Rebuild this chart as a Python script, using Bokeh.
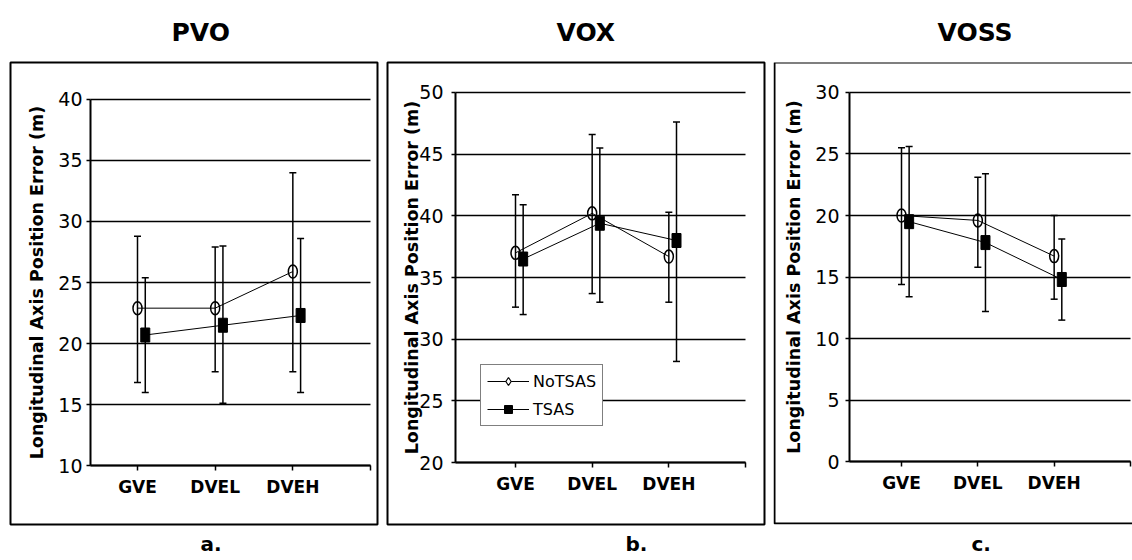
from bokeh.plotting import figure
from bokeh.models import (FixedTicker, Whisker, TeeHead, ColumnDataSource, Title,
                          BoxAnnotation, Legend, LegendItem, Range1d)
from bokeh.layouts import row
from bokeh.embed import file_html
from bokeh.resources import INLINE

# ---------------- data ----------------
categories = ["GVE", "DVEL", "DVEH"]
panel_titles = ["PVO", "VOX", "VOSS"]
panel_letters = ["a.", "b.", "c."]
series_names = ["NoTSAS", "TSAS"]
y_axis_title = "Longitudinal Axis Position Error (m)"

pvo_notsas = [22.9, 22.9, 25.9]
pvo_notsas_hi = [28.8, 27.9, 34.0]
pvo_notsas_lo = [16.8, 17.7, 17.7]
pvo_tsas = [20.7, 21.5, 22.3]
pvo_tsas_hi = [25.4, 28.0, 28.6]
pvo_tsas_lo = [16.0, 15.1, 16.0]

vox_notsas = [37.0, 40.2, 36.7]
vox_notsas_hi = [41.7, 46.6, 40.3]
vox_notsas_lo = [32.6, 33.7, 33.0]
vox_tsas = [36.5, 39.4, 38.0]
vox_tsas_hi = [40.9, 45.5, 47.6]
vox_tsas_lo = [32.0, 33.0, 28.2]

voss_notsas = [20.0, 19.6, 16.7]
voss_notsas_hi = [25.5, 23.1, 20.0]
voss_notsas_lo = [14.4, 15.8, 13.2]
voss_tsas = [19.5, 17.8, 14.8]
voss_tsas_hi = [25.6, 23.4, 18.1]
voss_tsas_lo = [13.4, 12.2, 11.5]

y_limits = [(10, 40), (20, 50), (0, 30)]
y_ticks = [[10, 15, 20, 25, 30, 35, 40],
           [20, 25, 30, 35, 40, 45, 50],
           [0, 5, 10, 15, 20, 25, 30]]

panel_data = [
    (pvo_notsas, pvo_notsas_hi, pvo_notsas_lo, pvo_tsas, pvo_tsas_hi, pvo_tsas_lo),
    (vox_notsas, vox_notsas_hi, vox_notsas_lo, vox_tsas, vox_tsas_hi, vox_tsas_lo),
    (voss_notsas, voss_notsas_hi, voss_notsas_lo, voss_tsas, voss_tsas_hi, voss_tsas_lo),
]

# ---------------- layout (page pixel coordinates) ----------------
FONT = "DejaVu Sans"
FIG_H = 560
BOX_TOP, BOX_BOTTOM = 62, 525
layouts = [
    dict(fl=0, fr=382, box_l=10, box_r=377, x1=137, x4=370, ax_l=90, y_top=99, y_bot=466,
         title_off=161, letter_off=190, outline=True, tick_so=4, label_so=8),
    dict(fl=382, fr=768, box_l=387, box_r=764, x1=515, x4=745, ax_l=455, y_top=92, y_bot=463,
         title_off=169, letter_off=238, outline=True, tick_so=8, label_so=-6),
    dict(fl=768, fr=1132, box_l=773, box_r=1132, x1=901, x4=1130, ax_l=849, y_top=92, y_bot=462,
         title_off=164, letter_off=198, outline=False, tick_so=6, label_so=8),
]
TSAS_OFFSET = 0.1

figs = []
for i, L in enumerate(layouts):
    ylo, yhi = y_limits[i]
    xpx = (L["x4"] - L["x1"]) / 3.0
    ypx = (L["y_bot"] - L["y_top"]) / float(yhi - ylo)
    x_axis_start = 1 + (L["ax_l"] - L["x1"]) / xpx
    fx0 = 1 + (L["box_l"] - L["x1"]) / xpx
    fx1 = 1 + (L["box_r"] - L["x1"]) / xpx
    fy1 = yhi + (L["y_top"] - BOX_TOP) / ypx
    fy0 = ylo - (BOX_BOTTOM - L["y_bot"]) / ypx

    p = figure(width=L["fr"] - L["fl"], height=FIG_H, output_backend="svg", toolbar_location=None,
               x_range=Range1d(fx0, fx1), y_range=Range1d(fy0, fy1),
               min_border_left=L["box_l"] - L["fl"], min_border_right=L["fr"] - L["box_r"],
               min_border_top=BOX_TOP, min_border_bottom=FIG_H - BOX_BOTTOM)
    p.background_fill_color = "white"
    p.border_fill_color = "white"
    if L["outline"]:
        p.outline_line_color = "black"
        p.outline_line_width = 2
        p.outline_line_alpha = 1
    else:
        p.outline_line_color = None
        fw = L["box_r"] - L["box_l"]
        fh = BOX_BOTTOM - BOX_TOP
        p.add_layout(BoxAnnotation(left=1, right=fw + 40, top=fh - 1, bottom=1,
                                   left_units="screen", right_units="screen", top_units="screen",
                                   bottom_units="screen", fill_color=None, fill_alpha=0,
                                   line_color="black", line_width=2, line_alpha=1))

    p.xgrid.visible = False
    p.ygrid.ticker = FixedTicker(ticks=y_ticks[i])
    p.ygrid.bounds = (ylo, yhi)
    p.ygrid.cross_bounds = (x_axis_start, 4)
    p.ygrid.grid_line_color = "black"
    p.ygrid.grid_line_width = 1.5
    p.ygrid.grid_line_alpha = 1

    yax = p.yaxis[0]
    yax.fixed_location = x_axis_start
    yax.bounds = (ylo, yhi)
    yax.ticker = FixedTicker(ticks=y_ticks[i])
    yax.axis_line_width = 2
    yax.axis_line_color = "black"
    yax.major_tick_out = 4
    yax.major_tick_in = 0
    yax.major_tick_line_width = 1.5
    yax.minor_tick_line_color = None
    yax.major_label_standoff = L["tick_so"]
    yax.major_label_text_font = FONT
    yax.major_label_text_font_size = "19px"
    yax.major_label_text_color = "black"
    yax.axis_label = y_axis_title
    yax.axis_label_text_font = FONT
    yax.axis_label_text_font_style = "bold"
    yax.axis_label_text_font_size = "17.5px"
    yax.axis_label_text_color = "black"
    yax.axis_label_standoff = L["label_so"]

    xax = p.xaxis[0]
    xax.fixed_location = ylo
    xax.bounds = (x_axis_start, 4)
    xax.ticker = FixedTicker(ticks=[1, 2, 3, 4])
    xax.major_label_overrides = {1: categories[0], 2: categories[1], 3: categories[2], 4: ""}
    xax.axis_line_width = 2
    xax.axis_line_color = "black"
    xax.major_tick_out = 5
    xax.major_tick_in = 0
    xax.major_tick_line_width = 1.5
    xax.minor_tick_line_color = None
    xax.major_label_standoff = 6
    xax.major_label_text_font = FONT
    xax.major_label_text_font_style = "bold"
    xax.major_label_text_font_size = "17px"
    xax.major_label_text_color = "black"

    no, no_hi, no_lo, ts, ts_hi, ts_lo = panel_data[i]
    xs_no = [1, 2, 3]
    xs_ts = [1 + TSAS_OFFSET, 2 + TSAS_OFFSET, 3 + TSAS_OFFSET]
    src_no = ColumnDataSource(dict(x=xs_no, y=no, hi=no_hi, lo=no_lo))
    src_ts = ColumnDataSource(dict(x=xs_ts, y=ts, hi=ts_hi, lo=ts_lo))

    line_no = p.line("x", "y", source=src_no, line_color="black", line_width=1)
    line_ts = p.line("x", "y", source=src_ts, line_color="black", line_width=1)

    for src in (src_no, src_ts):
        w = Whisker(source=src, base="x", upper="hi", lower="lo", dimension="height",
                    line_color="black", line_width=1.5,
                    upper_head=TeeHead(size=7, line_color="black", line_width=1.5),
                    lower_head=TeeHead(size=7, line_color="black", line_width=1.5))
        p.add_layout(w)

    p.ellipse("x", "y", source=src_no, width=9, height=13, width_units="screen",
              height_units="screen", fill_color=None, line_color="black", line_width=1.5)
    p.rect("x", "y", source=src_ts, width=9, height=14, width_units="screen",
           height_units="screen", fill_color="black", line_color="black")

    p.add_layout(Title(text=panel_titles[i], align="left", offset=L["title_off"], standoff=31,
                       text_font=FONT, text_font_style="bold", text_font_size="25px",
                       text_color="black"), "above")
    p.add_layout(Title(text=panel_letters[i], align="left", offset=L["letter_off"], standoff=10,
                       text_font=FONT, text_font_style="bold", text_font_size="20px",
                       text_color="black"), "below")

    if i == 1:
        nan = float("nan")
        d_no = p.scatter(x=[nan], y=[nan], marker="diamond", size=10, fill_color="white",
                         line_color="black", line_width=1.2)
        d_ts = p.scatter(x=[nan], y=[nan], marker="square", size=8, fill_color="black",
                         line_color="black")
        legend = Legend(items=[LegendItem(label=series_names[0], renderers=[line_no, d_no]),
                               LegendItem(label=series_names[1], renderers=[line_ts, d_ts])],
                        location=(480 - L["box_l"], BOX_BOTTOM - 427),
                        border_line_color="black", border_line_width=1.5,
                        background_fill_color="white", background_fill_alpha=1,
                        label_text_font=FONT, label_text_font_size="16px", label_text_color="black",
                        glyph_width=42, glyph_height=20, spacing=8, padding=6, margin=0,
                        label_standoff=4, label_height=20)
        p.add_layout(legend, "center")

    figs.append(p)

layout = row(*figs, spacing=0)
open("out.html", "w").write(file_html(layout, INLINE))
